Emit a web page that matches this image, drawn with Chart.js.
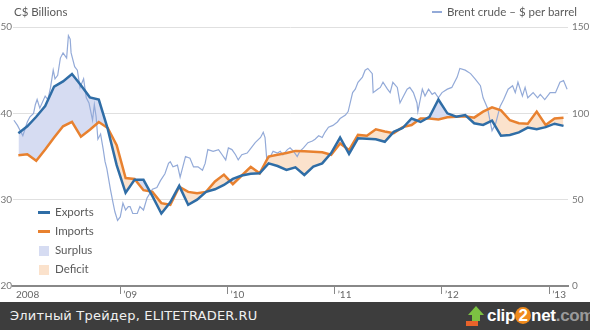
<!DOCTYPE html>
<html><head><meta charset="utf-8">
<script src="https://cdn.jsdelivr.net/npm/chart.js@4.4.0/dist/chart.umd.min.js"></script>
<style>
  body{margin:0;width:590px;height:330px;overflow:hidden;background:#fff;position:relative;font-family:Lato,"Open Sans",sans-serif;}
  #wrap{position:absolute;left:0;top:0;width:590px;height:302px;}
  .txt{position:absolute;color:#5a5a5a;font-size:11.5px;white-space:nowrap;line-height:14px;}
  .ln{position:absolute;height:3px;width:12px;}
  .sq{position:absolute;width:10px;height:10px;}
  #band{position:absolute;left:0;top:302px;width:590px;height:28px;background:#3d3d3d;}
  #band .cap{position:absolute;left:10px;top:6px;color:#f0f0f0;font-family:"DejaVu Sans",sans-serif;font-size:13px;letter-spacing:0.2px;white-space:nowrap;}
  #logo{position:absolute;left:487px;top:4px;white-space:nowrap;font-family:"Liberation Sans",Arial,sans-serif;font-weight:bold;font-size:17px;line-height:19px;color:#fff;letter-spacing:-0.3px;}
  #logo .two{display:inline-block;background:#f08a1c;color:#fff;border-radius:50%;width:16px;height:17px;line-height:17px;text-align:center;}
  #logo .com{color:#9a9a9a;}
</style></head>
<body>
<div id="wrap"><canvas id="c" width="590" height="302"></canvas></div>

<div class="txt" style="left:14px;top:5px;">C$ Billions</div>
<div class="ln" style="left:432px;top:11px;width:10px;height:1.5px;background:#93aad8;"></div>
<div class="txt" style="left:447px;top:5px;">Brent crude – $ per barrel</div>

<div class="ln" style="left:38px;top:211px;background:#2f6da6;"></div>
<div class="txt" style="left:55px;top:205px;">Exports</div>
<div class="ln" style="left:38px;top:230px;background:#e8812f;"></div>
<div class="txt" style="left:55px;top:224px;">Imports</div>
<div class="sq" style="left:39px;top:246px;background:#d6dcf2;"></div>
<div class="txt" style="left:55px;top:243px;">Surplus</div>
<div class="sq" style="left:39px;top:265px;background:#fbe2cc;"></div>
<div class="txt" style="left:55px;top:262px;">Deficit</div>

<div id="band">
  <div class="cap">Элитный Трейдер, ELITETRADER.RU</div>
  <div style="position:absolute;left:468px;top:4px;width:0;height:0;border-left:8px solid transparent;border-right:8px solid transparent;border-bottom:9px solid #7cc242;"></div>
  <div style="position:absolute;left:472px;top:12px;width:8px;height:7px;background:#7cc242;"></div>
  <div style="position:absolute;left:466px;top:19px;width:12px;height:5px;background:#e8632a;"></div>
  <div id="logo">clip<span class="two">2</span>net<span class="com">.com</span></div>
</div>

<script>
// months since Jan 2008 (0 = Jan '08 ... 61 = Feb '13)
const months = Array.from({length: 62}, (_, i) => i);

const exportsBn = [37.7, 38.5, 39.6, 40.85, 43.1, 43.7, 44.55, 43.25, 41.85, 41.6,
  38.2, 34.0, 30.8, 32.3, 32.3, 30.4, 28.4, 29.7, 31.6, 29.4,
  30.0, 30.9, 31.2, 31.7, 32.4, 32.8, 33.0, 33.05, 34.2, 33.9,
  33.45, 33.75, 32.86, 33.82, 34.2, 35.4, 37.2, 35.3, 37.1, 37.05,
  37.0, 36.7, 37.85, 38.3, 39.4, 39.0, 39.6, 41.6, 40.0, 39.6,
  39.8, 38.85, 38.65, 39.15, 37.4, 37.5, 37.8, 38.35, 38.15, 38.4,
  38.8, 38.55];

const importsBn = [35.15, 35.25, 34.5, 35.8, 37.2, 38.5, 39.0, 37.3, 38.1, 39.0,
  38.3, 36.3, 32.5, 32.4, 31.1, 30.9, 29.6, 29.4, 31.5, 30.9,
  30.75, 30.9, 32.1, 32.9, 31.8, 32.8, 33.8, 33.05, 35.0, 35.2,
  35.4, 35.65, 35.6, 35.55, 35.5, 35.2, 36.5, 35.75, 37.5, 37.4,
  38.15, 37.9, 37.7, 38.4, 38.65, 39.4, 39.4, 39.3, 39.55, 39.6,
  39.65, 39.5, 40.2, 40.7, 40.35, 39.2, 38.85, 38.8, 40.2, 38.65,
  39.4, 39.5];

// Brent crude, $ per barrel (x in months since Jan 2008)
const brentMonth = [0.1, 0.5, 1.1, 1.6, 1.9, 2.3, 2.5, 2.7, 3.0, 3.6, 3.9, 4.2, 4.5, 4.7, 5.0,
  5.3, 5.6, 6.0, 6.2, 6.4, 6.5, 6.9, 7.2, 7.5, 7.9, 8.2, 8.5, 8.9, 9.1, 9.3,
  9.5, 9.8, 10.1, 10.3, 10.5, 10.9, 11.2, 11.4, 11.7, 12.0, 12.3, 12.6, 12.9, 13.1, 13.4,
  13.9, 14.2, 14.6, 15.0, 15.6, 16.1, 16.5, 17.0, 17.4, 17.6, 17.9, 18.4, 18.7, 19.0, 19.3,
  19.8, 20.2, 20.7, 21.2, 21.5, 21.8, 22.4, 23.0, 23.4, 23.8, 24.1, 24.5, 24.9, 25.2, 25.6,
  26.2, 26.5, 27.1, 27.7, 28.0, 28.2, 28.4, 28.8, 29.1, 29.6, 29.9, 30.2, 30.7, 31.0, 31.4,
  31.8, 32.1, 32.5, 33.0, 33.5, 33.8, 34.2, 34.6, 34.9, 35.3, 35.8, 36.3, 36.6, 37.2, 37.5,
  38.0, 38.3, 38.6, 39.1, 39.4, 39.7, 40.2, 40.3, 40.8, 41.1, 41.4, 41.9, 42.2, 42.5, 43.0,
  43.3, 43.7, 44.1, 44.4, 44.8, 45.2, 45.3, 45.8, 46.1, 46.5, 46.9, 47.2, 47.6, 48.0, 48.6,
  49.1, 49.7, 50.0, 50.6, 51.2, 51.7, 52.3, 52.6, 53.1, 53.4, 53.6, 54.0, 54.2, 54.5, 54.9,
  55.4, 55.9, 56.2, 56.5, 57.0, 57.3, 57.6, 58.2, 58.7, 59.0, 59.5, 60.1, 60.7, 61.2, 61.6,
  62.0];
const brentPrice = [96, 93, 87, 95, 98, 100, 105, 108, 103, 110, 108, 115, 125, 120, 122,
  132, 135, 132, 145, 143, 135, 127, 125, 115, 120, 109, 106, 96, 105, 98,
  85, 88, 79, 72, 68, 56, 48, 43, 38, 40, 48, 44, 46, 46, 42,
  42, 46, 44, 51, 56, 57, 61, 65, 71, 72, 69, 70, 63, 69, 75,
  74, 69, 69, 67, 71, 79, 78, 79, 76, 73, 80, 79, 76, 73, 76,
  77, 79, 83, 86, 89, 86, 73, 75, 78, 77, 78, 76, 79, 80, 78,
  75, 78, 80, 83, 84, 85, 87, 86, 89, 92, 93, 95, 97, 99, 101,
  112, 114, 118, 121, 125, 126, 123, 112, 114, 115, 118, 114, 112, 118, 115,
  106, 110, 114, 115, 112, 106, 101, 114, 110, 114, 111, 112, 109, 112, 114,
  115, 121, 126, 125, 123, 120, 116, 109, 103, 95, 90, 94, 98, 104, 108,
  114, 116, 112, 118, 110, 115, 109, 112, 109, 111, 108, 112, 112, 118, 119,
  114];

const yearTicks = { 0: '2008', 12: '\u201909', 24: '\u201910', 36: '\u201911', 48: '\u201912', 60: '\u201913' };

const surplusFill = '#d6dcf2';
const deficitFill = '#fbe2cc';
const tickFont = { family: 'Lato', size: 10 };

new Chart(document.getElementById('c'), {
  type: 'line',
  data: {
    datasets: [
      {
        label: 'Exports',
        data: exportsBn.map((v, i) => ({ x: months[i] + 0.6, y: v })),
        borderColor: '#2f6da6', borderWidth: 2.5, pointRadius: 0, tension: 0,
        fill: { target: 1, above: surplusFill, below: deficitFill },
        yAxisID: 'y', order: 0
      },
      {
        label: 'Imports',
        data: importsBn.map((v, i) => ({ x: months[i] + 0.6, y: v })),
        borderColor: '#e8812f', borderWidth: 2.5, pointRadius: 0, tension: 0,
        fill: false, yAxisID: 'y', order: 1
      },
      {
        label: 'Brent crude',
        data: brentMonth.map((m, i) => ({ x: m, y: brentPrice[i] })),
        borderColor: '#93aad8', borderWidth: 1.2, pointRadius: 0, tension: 0,
        fill: false, yAxisID: 'y2', order: 3
      }
    ]
  },
  options: {
    responsive: false,
    animation: false,
    devicePixelRatio: 1,
    layout: { padding: { top: 27, left: 0, right: 0, bottom: 0 } },
    plugins: {
      legend: { display: false },
      tooltip: { enabled: false },
      filler: { drawTime: 'beforeDatasetsDraw' }
    },
    scales: {
      x: {
        type: 'linear', position: 'bottom', min: 0, max: 62.1,
        afterFit: s => { s.height = 16; },
        ticks: {
          stepSize: 12, includeBounds: false, align: 'start', padding: -5, labelOffset: 3,
          color: '#666', font: tickFont, maxRotation: 0,
          callback: v => yearTicks[v] || ''
        },
        grid: {
          drawOnChartArea: false, drawTicks: true, tickLength: 8,
          tickColor: c => (c.tick && c.tick.value === 0) ? 'rgba(0,0,0,0)' : '#888'
        },
        border: { display: true, color: '#888', width: 2 }
      },
      y: {
        position: 'left', min: 20, max: 50,
        afterFit: s => { s.width = 13; },
        ticks: { stepSize: 10, padding: 1, color: '#777', font: tickFont },
        grid: {
          drawTicks: false,
          color: c => c.tick.value === 20 ? 'rgba(0,0,0,0)' : '#e0e0e0'
        },
        border: { display: false }
      },
      y2: {
        position: 'right', min: 0, max: 150,
        afterFit: s => { s.width = 22; },
        ticks: { stepSize: 50, padding: 4, color: '#777', font: tickFont },
        grid: { drawOnChartArea: false, drawTicks: false },
        border: { display: false }
      }
    }
  }
});
</script>
</body></html>
